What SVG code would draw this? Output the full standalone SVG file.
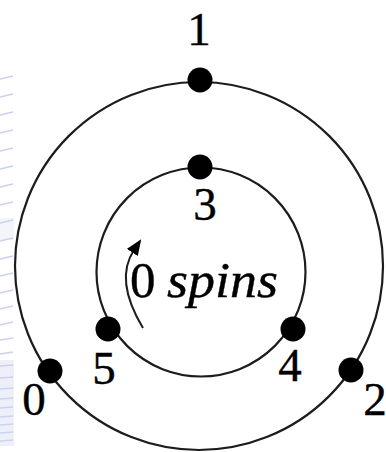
<svg xmlns="http://www.w3.org/2000/svg" width="386" height="452" viewBox="0 0 386 452">
  <defs>
    <style>
      .ring { fill: none; stroke: #1c1c1c; stroke-width: 2.2; }
      .dot { fill: #000; }
      .lbl { font-family: "Liberation Serif", "DejaVu Serif", serif; font-size: 47px; fill: #000; stroke: #000; stroke-width: 0.4; text-anchor: middle; }
      .txt { font-family: "Liberation Serif", "DejaVu Serif", serif; font-size: 51px; fill: #000; stroke: #000; stroke-width: 0.4; }
      .stripe { fill: none; stroke: #cbd2ed; stroke-width: 1.5; }
      .arrow { fill: none; stroke: #1c1c1c; stroke-width: 2; }
    </style>
    <marker id="ahd" viewBox="0 0 16 13" refX="3" refY="6.5" markerWidth="16" markerHeight="13" orient="auto" markerUnits="userSpaceOnUse">
      <path d="M0,0 L16,6.5 L0,13 Z" fill="#000"/>
    </marker>
  </defs>

  <g id="background">
    <rect x="0" y="360" width="14" height="86" fill="#eef0f9"/>
    <rect x="0" y="218" width="14" height="22" fill="#f3f5fb"/>
    <path class="stripe" d="M0,79 L13,76 M0,97 L13,94 M0,115 L13,112 M0,133 L13,130 M0,151 L13,148 M0,169 L13,166 M0,187 L13,184 M0,205 L13,202 M0,223 L13,220 M0,241 L13,238 M0,259 L13,256 M0,276 L13,273 M0,293 L13,290 M0,309 L13,306 M0,325 L13,322 M0,340 L13,338 M0,354 L13,352 M0,366 L13,365 M0,378 L13,377 M0,389 L13,388 M0,399 L13,398 M0,408 L13,407 M0,417 L13,416 M0,425 L13,424 M0,433 L13,432 M0,441 L13,440"/>
  </g>

  <g id="connectors">
    <circle id="outer-ring" class="ring" cx="199" cy="266" r="184"/>
    <circle id="inner-ring" class="ring" cx="201" cy="272" r="104.5"/>
    <path id="spin-arrow" class="arrow" d="M143,328 Q114,280 134,250" marker-end="url(#ahd)"/>
  </g>

  <g id="node-1">
    <circle class="dot" cx="200" cy="80" r="12.5"/>
    <text class="lbl" x="199" y="45">1</text>
  </g>
  <g id="node-3">
    <circle class="dot" cx="200" cy="167" r="12.5"/>
    <text class="lbl" x="205" y="220">3</text>
  </g>
  <g id="node-5">
    <circle class="dot" cx="108" cy="329" r="12.5"/>
    <text class="lbl" x="104" y="384">5</text>
  </g>
  <g id="node-4">
    <circle class="dot" cx="293" cy="329" r="12.5"/>
    <text class="lbl" x="290" y="381">4</text>
  </g>
  <g id="node-0">
    <circle class="dot" cx="50" cy="371" r="12.5"/>
    <text class="lbl" x="34" y="415">0</text>
  </g>
  <g id="node-2">
    <circle class="dot" cx="351" cy="370" r="12.5"/>
    <text class="lbl" x="375" y="415">2</text>
  </g>

  <g id="label-spins">
    <text class="txt" x="130" y="297">0</text>
    <text class="txt" x="167" y="297" font-style="italic" textLength="111" lengthAdjust="spacingAndGlyphs">spins</text>
  </g>
</svg>
